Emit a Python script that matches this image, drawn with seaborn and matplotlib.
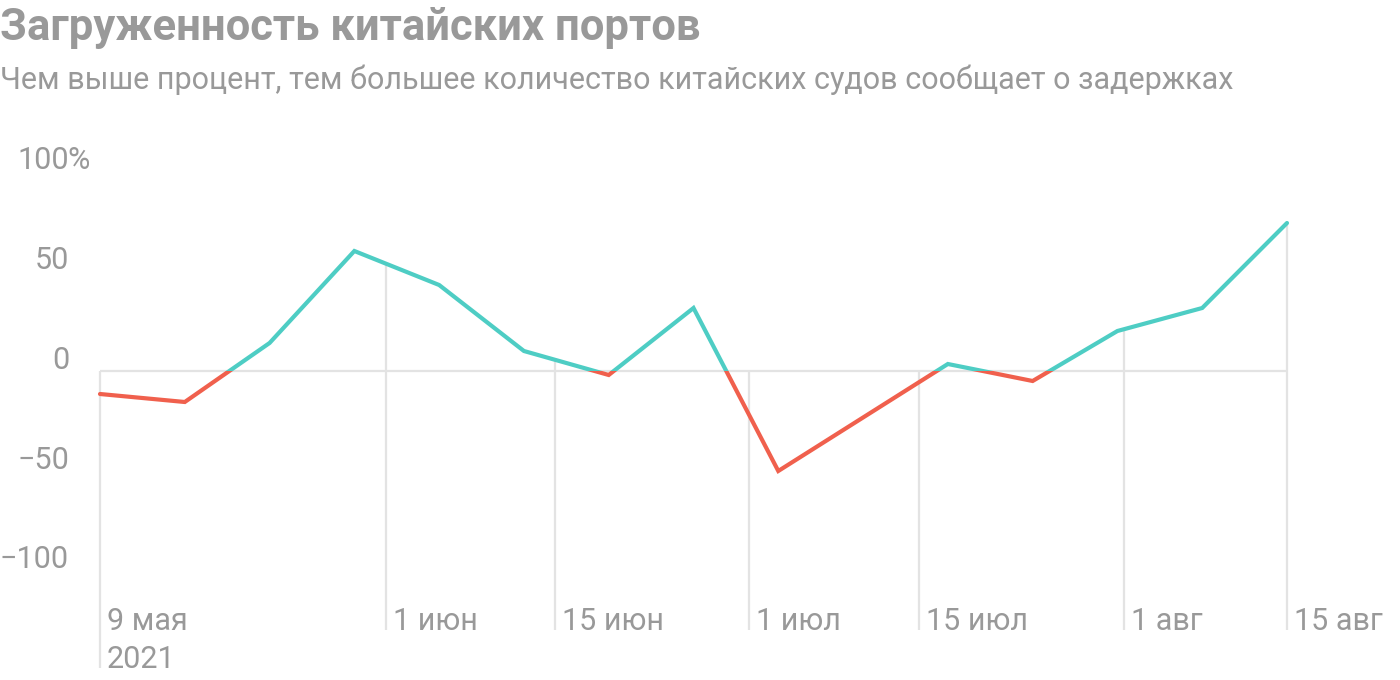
import numpy as np
import pandas as pd
import matplotlib
matplotlib.use("Agg")
import matplotlib.pyplot as plt
import matplotlib.dates as mdates
import matplotlib.transforms as mtransforms
from matplotlib.patches import Rectangle
import seaborn as sns

# ---- data ----
dates = pd.to_datetime([
    "2021-05-09", "2021-05-16", "2021-05-23", "2021-05-30", "2021-06-06",
    "2021-06-13", "2021-06-20", "2021-06-27", "2021-07-04", "2021-07-18",
    "2021-07-25", "2021-08-01", "2021-08-08", "2021-08-15",
])
values = [-11.5, -15.5, 14, 60, 43, 10, -2, 31.5, -50, 3.5, -5, 20, 31.5, 74]

tick_dates = pd.to_datetime([
    "2021-05-09 00:00", "2021-06-01 14:00", "2021-06-15 14:00", "2021-07-01 14:00",
    "2021-07-15 14:00", "2021-08-01 14:00", "2021-08-15 00:00",
])
tick_labels = ["9 мая\n2021", "1 июн", "15 июн", "1 июл", "15 июл", "1 авг", "15 авг"]
y_ticks = [100, 50, 0, -50, -100]
y_labels = ["100", "50", "0", "−50", "−100"]

title = "Загруженность китайских портов"
subtitle = "Чем выше процент, тем большее количество китайских судов сообщает о задержках"

POS = "#4ECDC4"
NEG = "#F0604D"
GRID = "#E3E3E3"
TXT = "#999999"

sns.set_theme(style="white")
plt.rcParams["font.family"] = ["Roboto", "DejaVu Sans"]

W, H = 1400, 680
fig = plt.figure(figsize=(W / 100, H / 100), dpi=100)

# axes: x from 100px to 1287px, y from 630px (bottom) to 151px (top)
ax = fig.add_axes([100 / W, (H - 630) / H, (1287 - 100) / W, (630 - 151) / H])
ax.set_xlim(dates[0], dates[-1])
ax.set_ylim(-129.5, 110)
ax.axis("off")

df = pd.DataFrame({"date": dates, "value": values})

# Vertical gridlines, from max(line, 0) down to bottom
xnum = mdates.date2num(dates)
for i, td in enumerate(tick_dates):
    tn = mdates.date2num(td)
    top = max(float(np.interp(tn, xnum, values)), 0.0)
    bottom_px = 668 if i == 0 else 630
    bottom_val = ax.transData.inverted().transform((0, H - bottom_px))[1]
    ax.plot([td, td], [bottom_val, top], color=GRID, lw=1.6, clip_on=False,
            solid_capstyle="butt", zorder=1)

# Zero line
ax.plot([dates[0], dates[-1]], [0, 0], color=GRID, lw=1.6, zorder=1,
        solid_capstyle="butt")

# Line, drawn twice and clipped above/below zero
x0 = mdates.date2num(pd.Timestamp("2021-04-01"))
x1 = mdates.date2num(pd.Timestamp("2021-09-30"))
for color, (ylo, yhi) in [(POS, (0, 500)), (NEG, (-500, 0))]:
    sns.lineplot(data=df, x="date", y="value", ax=ax, color=color, lw=3.0,
                 zorder=3)
    line = ax.lines[-1]
    rect = Rectangle((x0, ylo), x1 - x0, yhi - ylo, transform=ax.transData,
                     facecolor="none", edgecolor="none")
    line.set_clip_path(rect)
    line.set_solid_joinstyle("miter")
ax.set_xlim(dates[0], dates[-1])
ax.set_ylim(-129.5, 110)
ax.axis("off")

# Y labels (numbers right-aligned at x=69px, slightly above gridline level)
fs = 22
for v, lab in zip(y_ticks, y_labels):
    ypx = ax.transData.transform((0, v))[1] + 11
    fig.text(69 / W, ypx / H, lab, ha="right", va="center", fontsize=fs, color=TXT)
    if v == 100:
        fig.text(67 / W, ypx / H, "%", ha="left", va="center", fontsize=fs, color=TXT)

# X labels, left of gridline + 7px, baseline at 630px
trans = mtransforms.blended_transform_factory(ax.transData, fig.transFigure)
off = mtransforms.offset_copy(trans, fig=fig, x=7, y=0, units="dots")
for td, lab in zip(tick_dates, tick_labels):
    for k, s in enumerate(lab.split("\n")):
        ax.text(td, (H - 630 - 38 * k) / H, s, transform=off, ha="left",
                va="baseline", fontsize=fs, color=TXT, clip_on=False)

# Title & subtitle
fig.text(0 / W, 1 - 40 / H, title, fontsize=31.4, fontweight="bold", color=TXT,
         ha="left", va="baseline")
fig.text(0 / W, 1 - 89 / H, subtitle, fontsize=22, color=TXT,
         ha="left", va="baseline")

fig.savefig("out.png", dpi=100, facecolor="white")
